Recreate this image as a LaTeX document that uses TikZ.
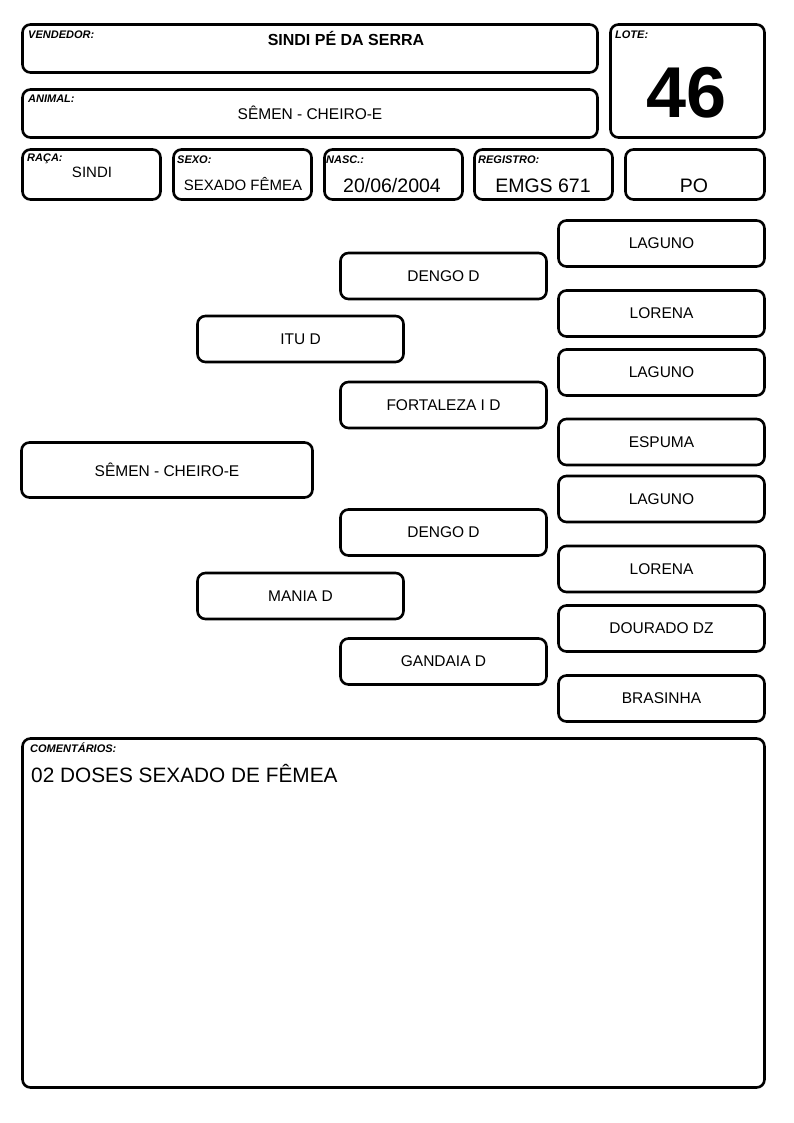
\documentclass[tikz,border=0pt]{standalone}
\usepackage{fontspec}
\setmainfont{Liberation Sans}
\begin{document}
\begin{tikzpicture}[x=1pt, y=-1pt,
    box/.style={draw, line width=2.6pt, rounded corners=8pt, inner sep=0pt},
    anc/.style={box, minimum width=206pt, minimum height=46pt, font=\fontsize{15.5}{18}\selectfont},
    lbl/.style={anchor=west, inner sep=0pt, font=\fontsize{11}{12}\selectfont\bfseries\itshape},
    val/.style={inner sep=0pt, font=\fontsize{15}{18}\selectfont},
    big/.style={inner sep=0pt, font=\fontsize{19.5}{22}\selectfont}]
    \path[use as bounding box, fill=white] (0,0) rectangle (794,1123);

    % Cabecalho
    \node[box, minimum width=575pt, minimum height=48pt] (vend) at (310,48.5) {};
    \node[lbl] (vendlbl) at (28,35) {VENDEDOR:};
    \node[inner sep=0pt, font=\fontsize{16}{18}\selectfont\bfseries] (vendval) at (346,38) {SINDI PÉ DA SERRA};

    \node[box, minimum width=575pt, minimum height=48pt] (animal) at (310,113.5) {};
    \node[lbl] (animallbl) at (28,99) {ANIMAL:};
    \node[val, font=\fontsize{15.5}{18}\selectfont] (animalval) at (310,113) {SÊMEN - CHEIRO-E};

    \node[box, minimum width=154pt, minimum height=113pt] (lote) at (687.5,81) {};
    \node[lbl] (lotelbl) at (615,35) {LOTE:};
    \node[inner sep=0pt, font=\fontsize{72}{72}\selectfont\bfseries] (loteval) at (687,93) {46};

    % Dados
    \node[box, minimum width=138pt, minimum height=50pt] (raca) at (91.5,174.5) {};
    \node[lbl] (racalbl) at (27,159) {RAÇA:};
    \node[val] (racaval) at (92,172) {SINDI};

    \node[box, minimum width=138pt, minimum height=50pt] (sexo) at (242.5,174.5) {};
    \node[lbl] (sexolbl) at (177,160) {SEXO:};
    \node[val] (sexoval) at (243,184) {SEXADO FÊMEA};

    \node[box, minimum width=138pt, minimum height=50pt] (nasc) at (393.5,174.5) {};
    \node[lbl] (nasclbl) at (326,160) {NASC.:};
    \node[big] (nascval) at (392,186) {20/06/2004};

    \node[box, minimum width=138pt, minimum height=50pt] (reg) at (543.5,174.5) {};
    \node[lbl] (reglbl) at (478,160) {REGISTRO:};
    \node[big] (regval) at (543,186) {EMGS 671};

    \node[box, minimum width=139pt, minimum height=50pt] (po) at (695,174.5) {};
    \node[big] (poval) at (694,186) {PO};

    % Genealogia
    \node[anc, minimum width=291pt, minimum height=55pt] (animal0) at (167,470) {SÊMEN - CHEIRO-E};

    \node[anc] (pai) at (300.5,339) {ITU D};
    \node[anc] (mae) at (300.5,596) {MANIA D};

    \node[anc] (avo1) at (443.5,276) {DENGO D};
    \node[anc] (avo2) at (443.5,405) {FORTALEZA I D};
    \node[anc] (avo3) at (443.5,532.5) {DENGO D};
    \node[anc] (avo4) at (443.5,661.5) {GANDAIA D};

    \node[anc] (bis1) at (661.5,243.5) {LAGUNO};
    \node[anc] (bis2) at (661.5,313.5) {LORENA};
    \node[anc] (bis3) at (661.5,372.5) {LAGUNO};
    \node[anc] (bis4) at (661.5,442) {ESPUMA};
    \node[anc] (bis5) at (661.5,499) {LAGUNO};
    \node[anc] (bis6) at (661.5,569) {LORENA};
    \node[anc] (bis7) at (661.5,628.5) {DOURADO DZ};
    \node[anc] (bis8) at (661.5,698.5) {BRASINHA};

    % Comentarios
    \node[box, minimum width=742pt, minimum height=349pt] (coment) at (393.5,913) {};
    \node[lbl] (comentlbl) at (30,748) {COMENTÁRIOS:};
    \node[anchor=west, inner sep=0pt, font=\fontsize{20.8}{22}\selectfont] (comentval) at (31,774) {02 DOSES SEXADO DE FÊMEA};
\end{tikzpicture}
\end{document}
